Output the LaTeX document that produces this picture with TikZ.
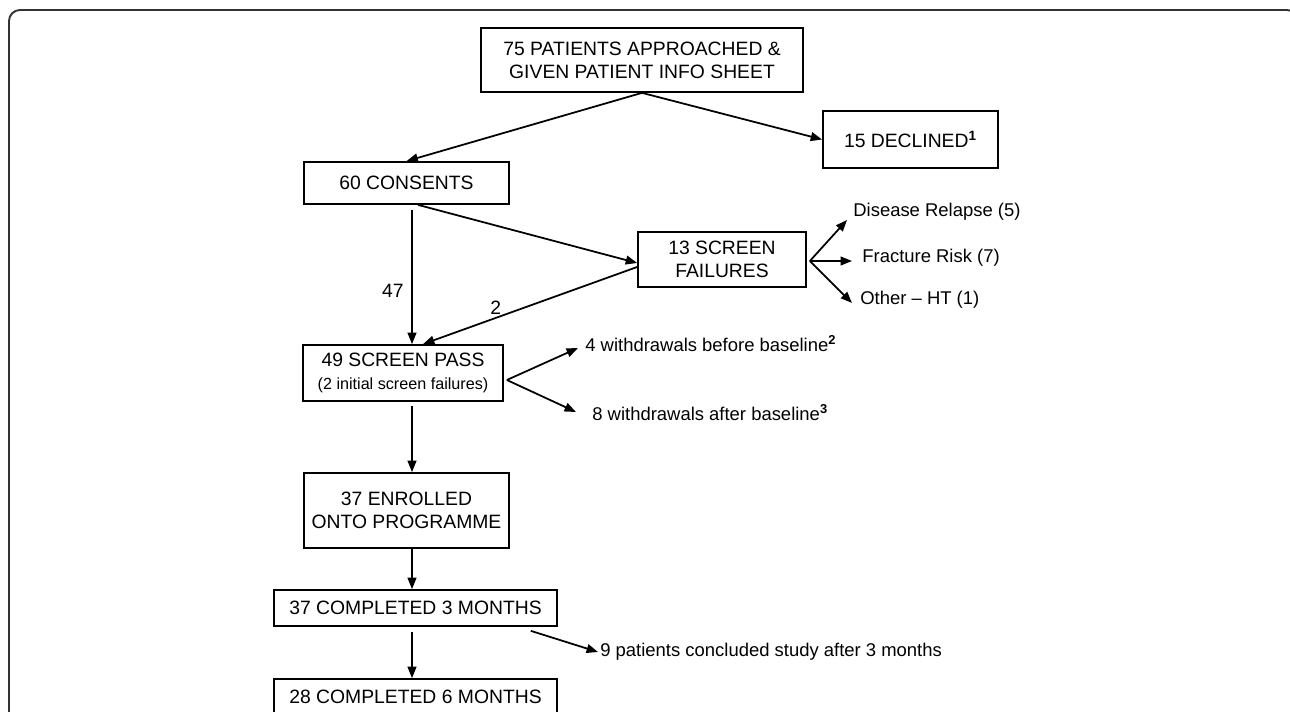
\documentclass[tikz,border=0pt]{standalone}
\usepackage{fontspec}
\setmainfont{Liberation Sans}
\usepackage{tikz}
\usetikzlibrary{arrows.meta,positioning,calc}
\definecolor{framegray}{RGB}{51,51,51}

\begin{document}
\begin{tikzpicture}[
  x=0.02cm, y=-0.02cm,
  box/.style={draw, line width=1pt, align=center, inner sep=0pt, font=\fontsize{11}{13}\selectfont},
  arr/.style={-{Triangle[length=6.5pt,width=5pt]}, line width=1pt},
  note/.style={anchor=west, inner sep=0pt, font=\fontsize{10.5}{12.5}\selectfont}
]
\useasboundingbox (0,0) rectangle (1290,712);
\draw[framegray, line width=1.1pt, rounded corners=0.22cm] (9,760) -- (9,10) -- (1298,10) -- (1298,760);

\node[box, minimum width=6.44cm, minimum height=1.28cm] (top) at (642,60) {75 PATIENTS APPROACHED \&\\GIVEN PATIENT INFO SHEET};
\node[box, minimum width=3.5cm, minimum height=1.14cm] (decl) at (910.5,139.5) {15 DECLINED\textsuperscript{\textbf{1}}};
\node[box, minimum width=4.1cm, minimum height=0.84cm] (cons) at (406.5,183) {60 CONSENTS};
\node[box, minimum width=3.36cm, minimum height=1.1cm] (sfail) at (722,259.5) {13 SCREEN\\FAILURES};
\node[box, minimum width=4.0cm, minimum height=1.12cm] (spass) at (403,373) {49 SCREEN PASS\\{\fontsize{9.2}{11}\selectfont (2 initial screen failures)}};
\node[box, minimum width=4.1cm, minimum height=1.5cm] (enrol) at (406.5,510.5) {37 ENROLLED\\ONTO PROGRAMME};
\node[box, minimum width=5.66cm, minimum height=0.72cm] (mthree) at (415.5,608) {37 COMPLETED 3 MONTHS};
\node[box, minimum width=5.66cm, minimum height=0.72cm] (msix) at (415.5,697) {28 COMPLETED 6 MONTHS};

\node[note] (relapse) at (853,212) {Disease Relapse (5)};
\node[note] (fracture) at (862,258) {Fracture Risk (7)};
\node[note] (other) at (860,300) {Other -- HT (1)};
\node[note] (wbefore) at (585,344) {4 withdrawals before baseline\textsuperscript{\textbf{2}}};
\node[note] (wafter) at (592,413) {8 withdrawals after baseline\textsuperscript{\textbf{3}}};
\node[note] (concl) at (600,652) {9 patients concluded study after 3 months};

\coordinate (spine) at (412,0);
\coordinate (sfan) at ([shift={(3,1.5)}]sfail.east);
\coordinate (pfan) at ([shift={(3,7)}]spass.east);

\draw[arr] (top.south) -- (cons.north);
\draw[arr] (top.south) -- (decl.west);
\draw[arr] ([yshift=-0.1cm]cons.south -| spine) -- (spass.north -| spine) node[pos=0.6, left=1pt] {\fontsize{11}{13}\selectfont 47};
\draw[arr] ([xshift=0.23cm]cons.south) -- ([yshift=-0.07cm]sfail.west);
\draw[arr] ([yshift=-0.15cm]sfail.west) -- ([xshift=0.4cm]spass.north) node[pos=0.66, above, inner sep=1.5pt] {\fontsize{11}{13}\selectfont 2};
\draw[arr] (sfan) -- ([shift={(-6,8)}]relapse.west);
\draw[arr] (sfan) -- ([shift={(-10,3)}]fracture.west);
\draw[arr] (sfan) -- ([shift={(-8,3)}]other.west);
\draw[arr] (pfan) -- ([shift={(-7,4)}]wbefore.west);
\draw[arr] (pfan) -- ([shift={(-16,-1)}]wafter.west);
\draw[arr] ([yshift=-0.08cm]spass.south -| spine) -- (enrol.north -| spine);
\draw[arr] (enrol.south -| spine) -- (mthree.north -| spine);
\draw[arr] ([yshift=-0.1cm]mthree.south -| spine) -- (msix.north -| spine);
\draw[arr] ([shift={(-27,4)}]mthree.south east) -- ([xshift=-0.04cm]concl.west);
\end{tikzpicture}
\end{document}
